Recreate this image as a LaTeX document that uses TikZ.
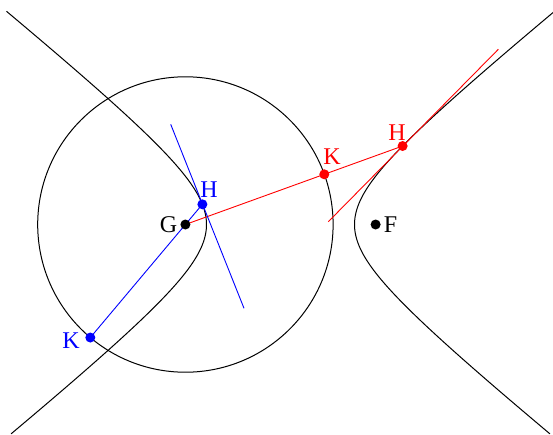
\documentclass[tikz,border=0pt]{standalone}
\usepackage{fontspec}
\setmainfont{Liberation Serif}
\usetikzlibrary{calc}
\begin{document}
\begin{tikzpicture}[x=1pt,y=-1pt,
  curve/.style={line width=1pt,black},
  bluel/.style={line width=0.9pt,blue},
  redl/.style={line width=0.9pt,red},
  dot/.style={circle,fill,inner sep=0pt,minimum size=10pt},
  lab/.style={inner sep=0pt,font=\fontsize{24}{24}\selectfont}]
\useasboundingbox (0,0) rectangle (553,434);
\coordinate (G) at (185.4,224.5);
\coordinate (F) at (375.6,224.5);
\coordinate (Hb) at ({280.5-74*cosh(0.3317)},{224.5-59.8*sinh(0.3317)});
\coordinate (Hr) at ({280.5+74*cosh(1.0862)},{224.5-59.8*sinh(1.0862)});
\coordinate (Kr) at ($(G)!147.7pt!(Hr)$);
\coordinate (Kb) at ($(G)!147.7pt!180:(Hb)$);
\coordinate (rt1) at (328.3,221.7);
\coordinate (rt2) at (498.3,49.3);
\coordinate (bt1) at (170.7,124.3);
\coordinate (bt2) at (244,308.3);
% circle and hyperbola
\draw[curve] (G) circle[radius=147.7];
\draw[curve] plot[domain=-1.966:1.985,samples=120,variable=\t] ({280.5-74*cosh(\t)},{224.5-59.8*sinh(\t)});
\draw[curve] plot[domain=-1.966:1.985,samples=120,variable=\t] ({280.5+74*cosh(\t)},{224.5-59.8*sinh(\t)});
% red construction
\draw[redl] (G) -- (Hr);
\draw[redl] (rt1) -- (rt2);
% blue construction
\draw[bluel] (Kb) -- (Hb);
\draw[bluel] (bt1) -- (bt2);
% dots
\node[dot,black] (Gd) at (G) {};
\node[dot,black] (Fd) at (F) {};
\node[dot,blue] (Hbd) at (Hb) {};
\node[dot,blue] (Kbd) at (Kb) {};
\node[dot,red] (Hrd) at (Hr) {};
\node[dot,red] (Krd) at (Kr) {};
% labels
\node[lab] (Gl) at (168.5,225) {G};
\node[lab] (Fl) at (390.5,225) {F};
\node[lab,blue] (Hbl) at (209,189.5) {H};
\node[lab,blue] (Kbl) at (71,340.5) {K};
\node[lab,red] (Hrl) at (397,132.5) {H};
\node[lab,red] (Krl) at (332,157) {K};
\end{tikzpicture}
\end{document}
